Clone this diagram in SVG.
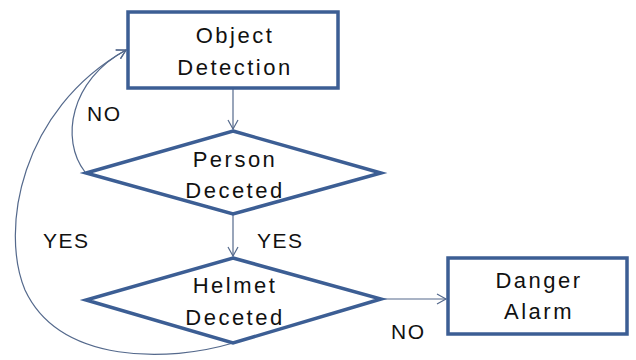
<svg xmlns="http://www.w3.org/2000/svg" width="636" height="360" viewBox="0 0 636 360">
<style>
.node{fill:#fff;stroke:#3c5e94;stroke-width:3.5;stroke-linejoin:miter}
.t{font-family:"Liberation Sans",Arial,sans-serif;font-size:22px;fill:#111;text-anchor:middle;letter-spacing:2.5px}
.lbl{font-family:"Liberation Sans",Arial,sans-serif;font-size:21px;fill:#111;letter-spacing:1.5px}
.c{fill:none;stroke:#54698c;stroke-width:1.2}
</style>
<defs>
<marker id="ah" markerWidth="12" markerHeight="12" refX="10" refY="6" orient="auto" markerUnits="userSpaceOnUse">
<path d="M1,1 L10,6 L1,11" fill="none" stroke="#54698c" stroke-width="1.2"/>
</marker>
</defs>
<rect width="636" height="360" fill="#fff"/>
<g id="connectors">
<path class="c" d="M233,89 L233,129" marker-end="url(#ah)"/>
<path class="c" d="M233,215 L233,256" marker-end="url(#ah)"/>
<path class="c" d="M382,299 L446,299" marker-end="url(#ah)"/>
<path class="c" d="M85,172 C60,140 70,80 126,50" marker-end="url(#ah)"/>
<path class="c" d="M233,343 C170,362 60,365 25,290 C0,230 20,110 126,50" marker-end="url(#ah)"/>
</g>
<g id="object-detection">
<rect class="node" x="128" y="12" width="210" height="76"/>
<text class="t" x="235" y="43">Object</text>
<text class="t" x="235" y="75">Detection</text>
</g>
<g id="person-detected">
<polygon class="node" points="233,131 381,173 233,214 86,173"/>
<text class="t" x="235" y="167">Person</text>
<text class="t" x="235" y="198">Deceted</text>
</g>
<g id="helmet-detected">
<polygon class="node" points="233,258 381,299 233,343 86,300"/>
<text class="t" x="235" y="293">Helmet</text>
<text class="t" x="235" y="325">Deceted</text>
</g>
<g id="danger-alarm">
<rect class="node" x="448" y="258" width="179" height="76"/>
<text class="t" x="539" y="288">Danger</text>
<text class="t" x="539" y="319">Alarm</text>
</g>
<g id="labels">
<text class="lbl" x="87" y="121">NO</text>
<text class="lbl" x="43" y="248">YES</text>
<text class="lbl" x="257" y="248">YES</text>
<text class="lbl" x="391" y="339">NO</text>
</g>
</svg>
